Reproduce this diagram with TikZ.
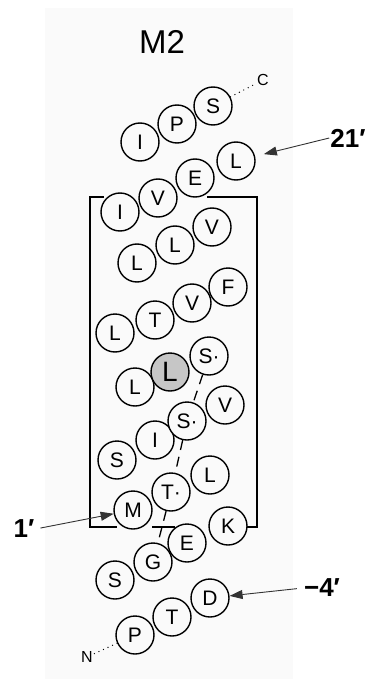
\documentclass[tikz,border=0pt]{standalone}
\usepackage{fontspec}
\setmainfont{Liberation Sans}
\usetikzlibrary{arrows.meta}
\definecolor{panel}{HTML}{FAFAFA}
\tikzset{
  res/.style    ={circle,draw,line width=1.4pt,fill=panel,minimum size=38pt,inner sep=0pt,font=\fontsize{21}{21}\selectfont},
  hot/.style    ={res,fill=gray!45,font=\fontsize{28}{28}\selectfont},
  tag/.style    ={font=\bfseries\fontsize{26}{26}\selectfont,inner sep=1pt},
  term/.style   ={font=\fontsize{16}{16}\selectfont,inner sep=1pt},
  pointer/.style={-{Triangle[length=13pt,width=9pt]},line width=0.9pt,black!80},
  lining/.style ={line width=1.3pt,dash pattern=on 10pt off 7pt},
  tail/.style   ={line width=1.4pt,dash pattern=on 0pt off 5pt,line cap=round},
  bracket/.style={line width=1.4pt},
}
\begin{document}
\begin{tikzpicture}[x=1pt,y=-1pt]
  \useasboundingbox (0,0) rectangle (370,679);
  \fill[panel] (45,8) rectangle (293,679);
  \node[font=\fontsize{33}{33}\selectfont] (title) at (162,42) {M2};

  \draw[bracket] (104,197) -- (90,197) -- (90,527) -- (117,527);
  \draw[bracket] (152,527) -- (175,527);
  \draw[bracket] (207,197) -- (257,197) -- (257,527) -- (247,527);

  \node[res] (i1) at (140,142) {I};
  \node[res] (p1) at (177,124) {P};
  \node[res] (s1) at (213,106) {S};

  \node[res] (i2) at (120,212) {I};
  \node[res] (v2) at (158,198) {V};
  \node[res] (e2) at (195,178) {E};
  \node[res] (l2) at (236,161) {L};

  \node[res] (l3a) at (137,263) {L};
  \node[res] (l3b) at (175,245) {L};
  \node[res] (v3)  at (212,227) {V};

  \node[res] (l4) at (115,333) {L};
  \node[res] (t4) at (155,320) {T};
  \node[res] (v4) at (192,303) {V};
  \node[res] (f4) at (228,287) {F};

  \node[res] (l5)  at (135,387) {L};
  \node[hot] (l5h) at (170,372) {L};
  \node[res] (s5)  at (209,356) {S·};

  \node[res] (s6a) at (117,460) {S};
  \node[res] (i6)  at (155,440) {I};
  \node[res] (s6)  at (187,421) {S·};
  \node[res] (v6)  at (225,405) {V};

  \node[res] (m7) at (133,510) {M};
  \node[res] (t7) at (171,492) {T·};
  \node[res] (l7) at (210,475) {L};

  \node[res] (s8) at (115,580) {S};
  \node[res] (g8) at (153,562) {G};
  \node[res] (e8) at (187,543) {E};
  \node[res] (k8) at (228,526) {K};

  \node[res] (p9) at (135,635) {P};
  \node[res] (t9) at (172,617) {T};
  \node[res] (d9) at (210,598) {D};

  \draw[lining] (s5) -- (s6) -- (t7) -- (g8);

  \node[term] (cterm) at (263,80) {C};
  \node[term] (nterm) at (87,657) {N};
  \draw[tail] (s1) -- (cterm);
  \draw[tail] (p9) -- (nterm);

  \node[tag] (n21) at (348,138) {21′};
  \node[tag] (n1)  at (24,529) {1′};
  \node[tag] (n4)  at (322,588) {−4′};
  \draw[pointer,shorten >=9pt] (n21.west) -- (l2);
  \draw[pointer,shorten <=5pt] (n1.east) -- (m7);
  \draw[pointer,shorten <=6pt] (n4.west) -- (d9);
\end{tikzpicture}
\end{document}
